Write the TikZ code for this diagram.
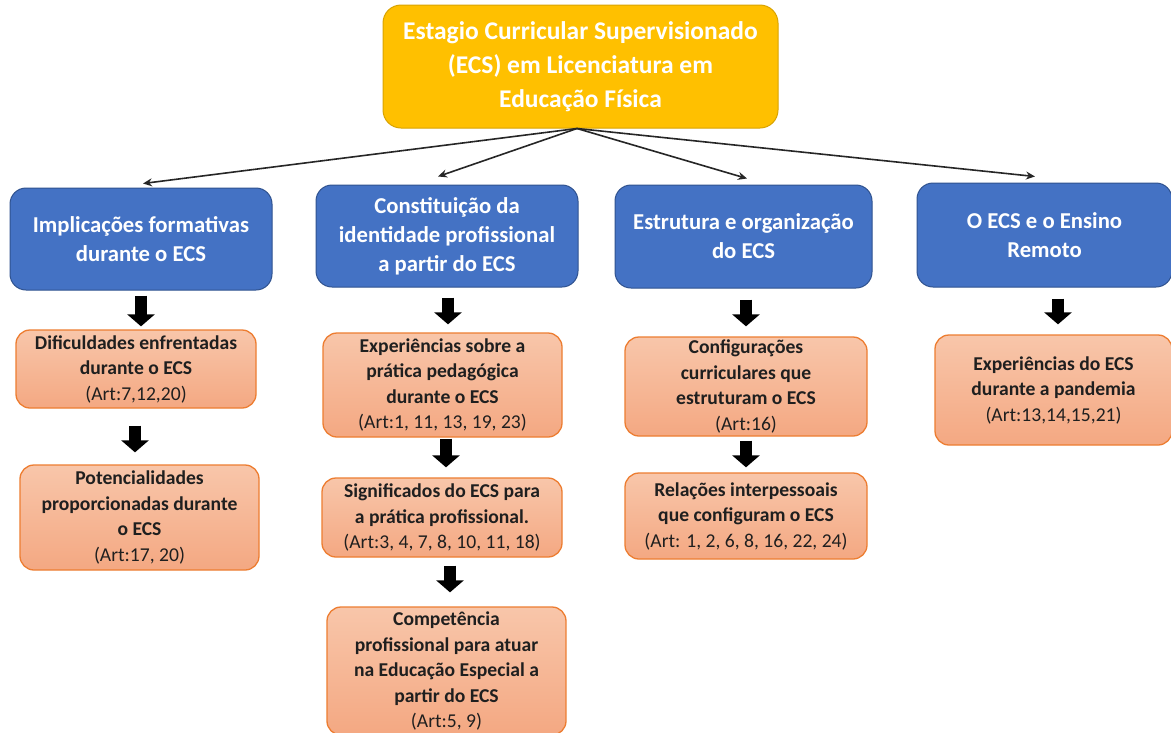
\documentclass[tikz,border=0pt]{standalone}
\usepackage{fontspec}
\setmainfont{Carlito}
\usetikzlibrary{arrows.meta,calc}
\definecolor{gold}{HTML}{FFC000}
\definecolor{goldb}{HTML}{D9A300}
\definecolor{bluef}{HTML}{4472C4}
\definecolor{blueb}{HTML}{2F528F}
\definecolor{orT}{HTML}{F8C6AA}
\definecolor{orB}{HTML}{F4A882}
\definecolor{orb}{HTML}{ED7D31}
\begin{document}
\begin{tikzpicture}[x=1pt,y=-1pt,
  topbox/.style={draw=goldb, line width=1pt, fill=gold, rounded corners=18pt, text=white, align=center, inner sep=0pt, font=\fontsize{25.5}{34}\selectfont\bfseries},
  catbox/.style={draw=blueb, line width=1pt, fill=bluef, rounded corners=16pt, text=white, align=center, inner sep=0pt, font=\fontsize{22.7}{29}\selectfont\bfseries},
  subbox/.style={draw=orb, line width=1.3pt, top color=orT, bottom color=orB, rounded corners=14pt, text=black!88, align=center, inner sep=0pt, font=\fontsize{19.6}{25.5}\selectfont\bfseries},
  link/.style={draw=black!85, line width=1.6pt, -{Stealth[length=9pt,width=8pt]}},
  blk/.style={draw=black, line width=12pt, -{Triangle[length=12pt,width=27pt]}}
]
\clip (0,0) rectangle (1171,732);
\fill[white] (0,0) rectangle (1171,732);

\node[topbox, minimum width=395, minimum height=123] (top) at (580.5,66.5) {Estagio Curricular Supervisionado\\(ECS) em Licenciatura em\\Educação Física};

\node[catbox, minimum width=262, minimum height=102] (b1) at (141,239) {Implicações formativas\\durante o ECS};
\node[catbox, minimum width=262, minimum height=102] (b2) at (447,236) {Constituição da\\identidade profissional\\a partir do ECS};
\node[catbox, minimum width=257, minimum height=103] (b3) at (743.5,236.5) {Estrutura e organização\\do ECS};
\node[catbox, minimum width=255, minimum height=104] (b4) at (1044.5,235) {O ECS e o Ensino\\Remoto};

\node[subbox, minimum width=240, minimum height=78] (o1a) at (136,369) {Dificuldades enfrentadas\\durante o ECS\\\mdseries (Art:7,12,20)};
\node[subbox, minimum width=239, minimum height=105] (o1b) at (139.5,517.5) {Potencialidades\\proporcionadas durante\\o ECS\\\mdseries (Art:17, 20)};
\node[subbox, minimum width=239, minimum height=104] (o2a) at (442.5,385) {Experiências sobre a\\prática pedagógica\\durante o ECS\\\mdseries (Art:1, 11, 13, 19, 23)};
\node[subbox, minimum width=240, minimum height=79] (o2b) at (442,517.5) {Significados do ECS para\\a prática profissional.\\\mdseries (Art:3, 4, 7, 8, 10, 11, 18)};
\node[subbox, minimum width=239, minimum height=128] (o2c) at (446.5,671) {Competência\\profissional para atuar\\na Educação Especial a\\partir do ECS\\\mdseries (Art:5, 9)};
\node[subbox, minimum width=242, minimum height=99] (o3a) at (746,386.5) {Configurações\\curriculares que\\estruturam o ECS\\\mdseries (Art:16)};
\node[subbox, minimum width=242, minimum height=86] (o3b) at (746,516) {Relações interpessoais\\que configuram o ECS\\\mdseries (Art: 1, 2, 6, 8, 16, 22, 24)};
\node[subbox, minimum width=237, minimum height=110] (o4) at (1053.5,390) {Experiências do ECS\\durante a pandemia\\\mdseries (Art:13,14,15,21)};

\draw[link] ($(top.south)+(-3.5,0)$) -- ($(b1.north)+(2,-4)$);
\draw[link] ($(top.south)+(-3.5,0)$) -- ($(b2.north)+(-9,-8)$);
\draw[link] ($(top.south)+(-3.5,0)$) -- ($(b3.north)+(3.5,-6)$);
\draw[link] ($(top.south)+(-3.5,0)$) -- ($(b4.north)+(-9.5,-6)$);

\draw[blk] ($(b1.south)+(0,5)$) -- ($(o1a.north)+(5,-3)$);
\draw[blk] ($(o1a.south)+(-1,17)$) -- ($(o1b.north)+(-4.5,-12)$);
\draw[blk] ($(b2.south)+(1,10)$) -- ($(o2a.north)+(5.5,-8)$);
\draw[blk] ($(o2a.south)+(3.5,1)$) -- ($(o2b.north)+(4,-10)$);
\draw[blk] ($(o2b.south)+(8,8)$) -- ($(o2c.north)+(3.5,-14)$);
\draw[blk] ($(b3.south)+(2.5,11)$) -- ($(o3a.north)+(0,-10)$);
\draw[blk] ($(o3a.south)+(0,4)$) -- ($(o3b.north)+(0,-5)$);
\draw[blk] ($(b4.south)+(13.5,11)$) -- ($(o4.north)+(4.5,-10)$);
\end{tikzpicture}
\end{document}
